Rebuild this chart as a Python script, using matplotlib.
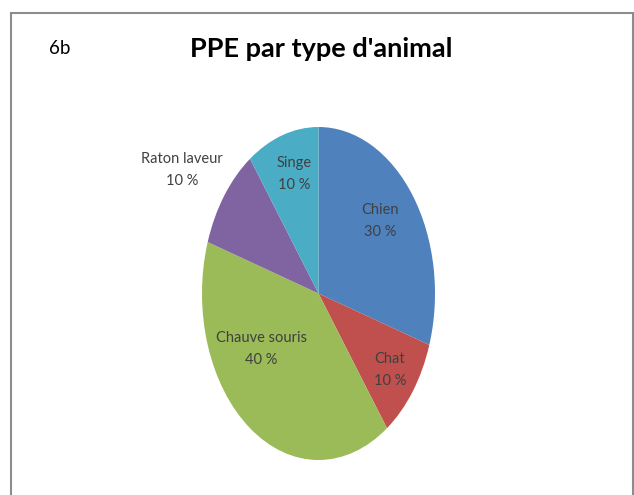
import matplotlib
matplotlib.use("Agg")
import matplotlib.pyplot as plt
from matplotlib.patches import Rectangle

animals = ["Chien", "Chat", "Chauve souris", "Raton laveur", "Singe"]
shares = [30, 10, 40, 10, 10]
colors = ["#4F81BD", "#C0504D", "#9BBB59", "#8064A2", "#4BACC6"]

# label anchor points (pixels, from top-left of the figure)
label_px = [(380, 221), (390, 370), (261, 349), (182, 170), (294, 174)]

W, H = 634, 495
fig = plt.figure(figsize=(W / 100, H / 100), dpi=100)

# outer frame
fig.patches.append(Rectangle((10.5 / W, -0.05), 622.5 / W, 1.05 - 12.5 / H,
                             transform=fig.transFigure, fill=False,
                             edgecolor="#8c8c8c", linewidth=1.5))

# pie squeezed into an ellipse
ax = fig.add_axes([202 / W, 35 / H, 233 / W, 333 / H])
ax.pie(shares, colors=colors, startangle=90, counterclock=False,
       wedgeprops=dict(linewidth=0))
ax.set_aspect("auto")
ax.set_xlim(-1, 1)
ax.set_ylim(-1, 1)
ax.axis("off")

for name, val, (px, py) in zip(animals, shares, label_px):
    fig.text(px / W, 1 - py / H, "{}\n{} %".format(name, val),
             ha="center", va="center", family="Lato", fontsize=10.5,
             color="#404040", linespacing=1.8)

fig.text(321 / W, 1 - 49 / H, "PPE par type d'animal", ha="center",
         va="center", family="Lato", fontsize=19.5, fontweight="bold")
fig.text(60 / W, 1 - 48 / H, "6b", ha="center", va="center",
         family="Lato", fontsize=13.5)

fig.savefig("out.png", dpi=100)
